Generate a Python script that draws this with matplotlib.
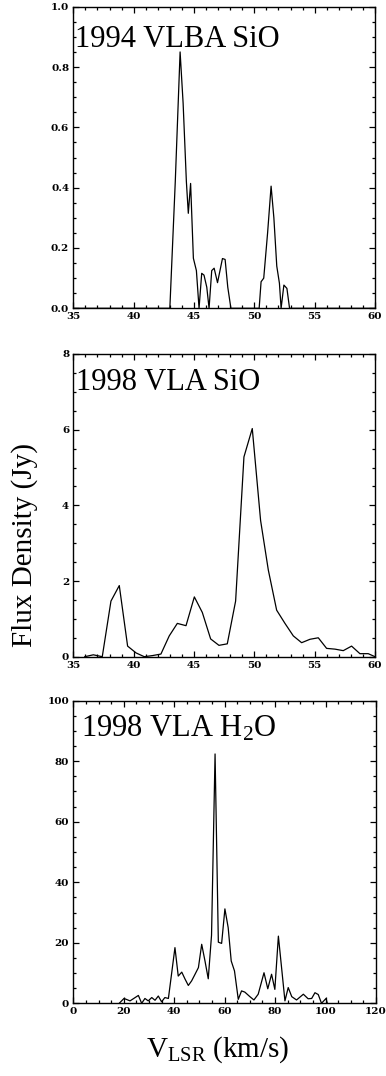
import matplotlib
matplotlib.use("Agg")
import matplotlib.pyplot as plt
from matplotlib.ticker import MultipleLocator

plt.rcParams['mathtext.fontset'] = 'custom'
plt.rcParams['mathtext.rm'] = 'Liberation Serif'
plt.rcParams['mathtext.it'] = 'Liberation Serif:italic'

# ---- data: 1994 VLBA SiO ----
v_vlba_sio = [35.0, 43.0, 43.45, 43.85, 44.1, 44.37, 44.53, 44.72, 44.95, 45.2, 45.42,
              45.64, 45.83, 46.06, 46.25, 46.47, 46.67, 46.95, 47.36, 47.58, 47.8, 48.06,
              50.4, 50.56, 50.78, 51.1, 51.39, 51.62, 51.86, 52.08, 52.22, 52.45, 52.7,
              52.92, 60.0]
s_vlba_sio = [0.0, 0.0, 0.42, 0.85, 0.68, 0.42, 0.315, 0.414, 0.166, 0.125, 0.0,
              0.116, 0.11, 0.07, 0.0, 0.125, 0.133, 0.085, 0.165, 0.162, 0.07, 0.0,
              0.0, 0.088, 0.10, 0.25, 0.405, 0.30, 0.14, 0.083, 0.0, 0.077, 0.066,
              0.0, 0.0]

# ---- data: 1998 VLA SiO ----
v_vla_sio = [35.95, 36.66, 37.4, 38.12, 38.81, 39.5, 40.2, 40.88, 41.57, 42.26, 42.95,
             43.62, 44.34, 45.03, 45.69, 46.38, 47.07, 47.76, 48.45, 49.14, 49.83,
             50.52, 51.16, 51.85, 52.54, 53.23, 53.92, 54.61, 55.3, 55.99, 56.68,
             57.37, 58.06, 58.75, 59.44, 60.0]
s_vla_sio = [0.0, 0.05, 0.0, 1.47, 1.88, 0.28, 0.1, 0.0, 0.03, 0.07, 0.55,
             0.88, 0.82, 1.58, 1.17, 0.47, 0.3, 0.34, 1.47, 5.28, 6.03,
             3.6, 2.29, 1.23, 0.88, 0.55, 0.37, 0.46, 0.50, 0.22, 0.20,
             0.16, 0.28, 0.08, 0.08, 0.0]

# ---- data: 1998 VLA H2O ----
v_vla_h2o = [18.2, 20.1, 22.5, 25.8, 27.1, 28.4, 29.7, 31.1, 32.4, 33.7, 35.0,
             36.3, 37.7, 40.3, 41.6, 43.0, 44.3, 45.6, 46.9, 48.2, 49.6, 50.9,
             52.2, 53.5, 54.8, 56.2, 57.5, 58.8, 60.1, 61.4, 62.6, 63.9, 65.4,
             66.7, 68.0, 70.0, 71.6, 73.3, 75.6, 77.1, 78.6, 79.9, 81.3, 83.9,
             85.2, 86.6, 88.5, 91.2, 93.1, 94.5, 95.8, 97.1, 98.4, 100.2, 100.7]
s_vla_h2o = [0.0, 1.6, 0.8, 2.6, 0.0, 1.6, 0.8, 1.9, 1.0, 2.4, 0.5,
             1.9, 1.6, 18.4, 9.0, 10.3, 8.0, 5.9, 7.4, 9.5, 11.8, 19.5,
             14.0, 8.1, 22.5, 82.4, 20.2, 19.8, 31.2, 25.0, 14.0, 10.7, 1.3,
             4.1, 3.7, 2.2, 1.1, 3.0, 10.1, 4.8, 9.6, 4.6, 22.2, 0.8,
             5.2, 2.2, 1.1, 3.0, 1.5, 1.6, 3.5, 2.9, 0.0, 1.6, 0.0]

W, H = 386, 1076
fig = plt.figure(figsize=(W / 100, H / 100), dpi=100)

def frac_box(left, top, right, bottom):
    return [left / W, 1 - bottom / H, (right - left) / W, (bottom - top) / H]

serif = 'Liberation Serif'
tickfont = 'DejaVu Serif'

panels = [
    dict(box=frac_box(73.3, 6.7, 375, 308.3), v=v_vlba_sio, s=s_vlba_sio,
         xlim=(35, 60), ylim=(0, 1.0), xmaj=5, xmin=1, ymaj=0.2, ymin=0.05,
         yfmt='%.1f', label='1994 VLBA SiO', lx=0.006, ly=0.867),
    dict(box=frac_box(73.3, 354, 375, 656.7), v=v_vla_sio, s=s_vla_sio,
         xlim=(35, 60), ylim=(0, 8), xmaj=5, xmin=1, ymaj=2, ymin=0.5,
         yfmt='%d', label='1998 VLA SiO', lx=0.009, ly=0.881),
    dict(box=frac_box(73.3, 700.7, 376, 1003.3), v=v_vla_h2o, s=s_vla_h2o,
         xlim=(0, 120), ylim=(0, 100), xmaj=20, xmin=5, ymaj=20, ymin=5,
         yfmt='%d', label='1998 VLA H$_2$O', lx=0.024, ly=0.883),
]

for p in panels:
    ax = fig.add_axes(p['box'])
    ax.plot(p['v'], p['s'], color='black', lw=0.9, clip_on=True)
    ax.set_xlim(*p['xlim'])
    ax.set_ylim(*p['ylim'])
    ax.xaxis.set_major_locator(MultipleLocator(p['xmaj']))
    ax.xaxis.set_minor_locator(MultipleLocator(p['xmin']))
    ax.yaxis.set_major_locator(MultipleLocator(p['ymaj']))
    ax.yaxis.set_minor_locator(MultipleLocator(p['ymin']))
    ax.yaxis.set_major_formatter(matplotlib.ticker.FormatStrFormatter(p['yfmt']))
    ax.tick_params(which='both', direction='in', top=True, right=True, width=0.9)
    ax.tick_params(which='major', length=4.5, labelsize=7.5, pad=3)
    ax.tick_params(which='minor', length=2.2)
    for lab in ax.get_xticklabels() + ax.get_yticklabels():
        lab.set_fontfamily(tickfont)
        lab.set_fontweight('bold')
    for sp in ax.spines.values():
        sp.set_linewidth(1.0)
    ax.text(p['lx'], p['ly'], p['label'], transform=ax.transAxes,
            fontsize=22, fontfamily=serif, ha='left', va='baseline')

fig.text(25 / W, 1 - 545 / H, 'Flux Density (Jy)', rotation=90, fontsize=21,
         fontfamily=serif, ha='center', va='center')
fig.text(218 / W, 1 - 1050 / H, r'V$_{\rm LSR}$ (km/s)', fontsize=21,
         fontfamily=serif, ha='center', va='center')

fig.savefig('out.png', dpi=100)
